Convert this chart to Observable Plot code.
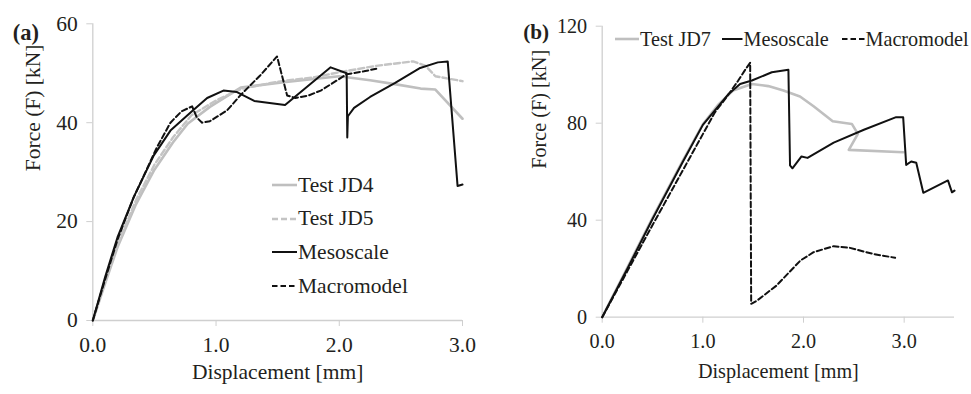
<!DOCTYPE html>
<html><head><meta charset="utf-8">
<script src="https://cdn.jsdelivr.net/npm/d3@7"></script>
<script src="https://cdn.jsdelivr.net/npm/@observablehq/plot@0.6"></script>
<style>
body{margin:0;background:#fff;}
#wrap{position:relative;width:971px;height:394px;overflow:hidden;font-family:"Liberation Serif","Times New Roman",Times,"DejaVu Serif",serif;color:#231f20;background:#fff;}
.panel{position:absolute;top:0;}
.leg{position:absolute;display:flex;align-items:center;white-space:nowrap;height:24px;}
.leg svg{display:block;}
</style></head><body>
<div id="wrap"><div id="pa" class="panel" style="left:0"></div><div id="pb" class="panel" style="left:490px"></div></div>
<script>
// ---- Data (displacement mm, force kN) ----
const xTicksA = [0, 1, 2, 3];
const yTicksA = [0, 20, 40, 60];
const xTicksB = [0, 1, 2, 3];
const yTicksB = [0, 40, 80, 120];

const testJD4 = [[0,0],[0.1,7.5],[0.2,14.8],[0.35,23.5],[0.5,30.5],[0.65,36],[0.77,39.8],[0.95,43.2],[1.2,47.1],[1.55,48.2],[2.0,49.4],[2.25,48.6],[2.45,47.8],[2.66,46.9],[2.78,46.7],[3.0,40.8]];
const testJD5 = [[0,0],[0.1,8],[0.2,15.3],[0.35,24.3],[0.5,31.5],[0.65,37],[0.8,41.5],[1.0,44.5],[1.2,46.8],[1.5,48.3],[1.8,49.2],[2.0,50.2],[2.3,51.5],[2.6,52.4],[2.7,51.5],[2.78,49.4],[3.0,48.4]];
const mesoA = [[0,0],[0.1,8.8],[0.2,16.8],[0.333,25],[0.495,33.4],[0.63,38.4],[0.8,42.2],[0.928,45],[1.06,46.5],[1.17,46.2],[1.31,44.4],[1.56,43.6],[1.93,51.2],[2.06,50],[2.065,37],[2.07,41.3],[2.12,43],[2.25,45.2],[2.45,48],[2.65,51],[2.8,52.2],[2.88,52.4],[2.96,27.2],[3.0,27.5]];
const macroA = [[0,0],[0.1,8.3],[0.2,16.3],[0.33,24.8],[0.52,35],[0.63,40],[0.72,42.3],[0.806,43.3],[0.845,41],[0.887,40],[0.95,40.3],[1.09,42.5],[1.2,45.6],[1.36,49.6],[1.495,53.4],[1.577,45.5],[1.644,45.0],[1.75,45.5],[1.85,46.5],[2.06,49.8],[2.2,50.4],[2.3,50.9]];

const testJD7 = [[0,0],[0.25,20.5],[0.5,41],[0.8,64.5],[1.0,79.5],[1.15,87.5],[1.3,93.5],[1.487,96.2],[1.65,95.3],[1.8,93.5],[1.965,91],[2.1,87],[2.29,80.8],[2.48,79.7],[2.54,75.6],[2.45,69],[2.99,68]];
const mesoB = [[0,0],[0.25,20],[0.5,40.5],[0.8,64],[1.0,79.3],[1.25,91.8],[1.37,96.2],[1.487,97.6],[1.685,101],[1.85,102],[1.866,62.6],[1.89,61.4],[1.98,66.3],[2.04,65.7],[2.3,72],[2.6,77.3],[2.92,82.5],[2.99,82.5],[3.02,62.8],[3.07,64.2],[3.12,63.7],[3.19,51.3],[3.435,56.4],[3.475,51.5],[3.5,52.2]];
const macroB = [[0,0],[0.25,19],[0.5,38],[0.8,60.5],[1.0,75.5],[1.12,84.5],[1.24,91],[1.35,97.5],[1.42,102],[1.47,104.9],[1.48,5.5],[1.54,6.9],[1.73,13],[1.97,23.4],[2.1,26.8],[2.3,29.3],[2.46,28.6],[2.69,26.1],[2.91,24.5]];

const legendA = ["Test JD4", "Test JD5", "Mesoscale", "Macromodel"];
const legendB = ["Test JD7", "Mesoscale", "Macromodel"];
const xLabel = "Displacement [mm]";
const yLabel = "Force (F) [kN]";

// ---- Styles ----
const FONT = '"Liberation Serif", "Times New Roman", Times, "DejaVu Serif", serif';
const GRAY = "#bfbfbf", BLACK = "#111", AXIS = "#cfcfcf", TEXT = "#231f20";
const sty = {
  "Test JD4": {stroke: GRAY, strokeWidth: 2.6, dash: null},
  "Test JD5": {stroke: "#c4c4c4", strokeWidth: 2.4, dash: "6,3"},
  "Test JD7": {stroke: GRAY, strokeWidth: 2.6, dash: null},
  "Mesoscale": {stroke: BLACK, strokeWidth: 2, dash: null},
  "Macromodel": {stroke: BLACK, strokeWidth: 2, dash: "5.5,3"}
};

function lineMark(data, name) {
  const s = sty[name];
  const o = {x: d => d[0], y: d => d[1], stroke: s.stroke, strokeWidth: s.strokeWidth};
  if (s.dash) o.strokeDasharray = s.dash;
  return Plot.line(data, o);
}

function makePanel(c) {
  return Plot.plot({
    width: c.width, height: 394,
    marginLeft: c.ml, marginRight: c.mr, marginTop: c.mt, marginBottom: c.mb,
    style: {fontFamily: FONT, fontSize: c.fs + "px", color: TEXT, background: "transparent", overflow: "visible"},
    x: {domain: c.xd},
    y: {domain: c.yd},
    marks: [
      Plot.ruleX([0], {stroke: AXIS, strokeWidth: 1.3}),
      Plot.ruleY([0], {stroke: AXIS, strokeWidth: 1.3}),
      Plot.axisX({ticks: c.xt, tickFormat: d => d.toFixed(1), tickSize: 6, tickPadding: 10, stroke: AXIS, fill: TEXT, label: null, fontFamily: FONT}),
      Plot.axisY({ticks: c.yt, tickFormat: d => String(d), tickSize: 6, tickPadding: 9, stroke: AXIS, fill: TEXT, label: null, fontFamily: FONT}),
      ...c.series.map(([d, n]) => lineMark(d, n)),
      Plot.text([xLabel], {text: d => d, frameAnchor: "bottom", dy: c.xlDy, fill: TEXT, fontFamily: FONT}),
      Plot.text([yLabel], {text: d => d, frameAnchor: "left", rotate: -90, dx: c.ylDx, dy: c.ylDy, fill: TEXT, fontFamily: FONT}),
      Plot.text([c.tag], {text: d => d, frameAnchor: "top-left", textAnchor: "start", dx: c.tagDx, dy: c.tagDy, fontWeight: "bold", fontSize: c.fs + 1, fill: TEXT, fontFamily: FONT})
    ]
  });
}

document.getElementById("pa").append(makePanel({
  width: 490, ml: 92.3, mr: 28, mt: 23.3, mb: 74, fs: 21.5,
  xd: [0, 3], yd: [0, 60], xt: xTicksA, yt: yTicksA,
  series: [[testJD4, "Test JD4"], [testJD5, "Test JD5"], [mesoA, "Mesoscale"], [macroA, "Macromodel"]],
  xlDy: 58, ylDx: -60, ylDy: -1, tag: "(a)", tagDx: -80, tagDy: 0
}));
document.getElementById("pb").append(makePanel({
  width: 481, ml: 111.7, mr: 17, mt: 25.7, mb: 77.3, fs: 20.2,
  xd: [0, 3.5], yd: [0, 120], xt: xTicksB, yt: yTicksB,
  series: [[testJD7, "Test JD7"], [mesoB, "Mesoscale"], [macroB, "Macromodel"]],
  xlDy: 61, ylDx: -63, ylDy: -3, tag: "(b)", tagDx: -79, tagDy: -2.4
}));

// ---- Legends (HTML) ----
function legItem(name, left, cy, lineW, fs) {
  const s = sty[name];
  const div = document.createElement("div");
  div.className = "leg";
  div.style.left = left + "px";
  div.style.top = (cy - 12) + "px";
  div.style.fontSize = fs + "px";
  div.style.fontFamily = FONT;
  div.innerHTML = `<svg width="${lineW}" height="10"><line x1="0" x2="${lineW}" y1="5" y2="5" stroke="${s.stroke}" stroke-width="${s.strokeWidth}" ${s.dash ? `stroke-dasharray="${s.dash}"` : ""}/></svg><span style="margin-left:1px">${name}</span>`;
  document.getElementById("wrap").append(div);
}
legendA.forEach((n, i) => legItem(n, 272, 185 + i * 33.7, 25, 21.5));
const legBLeft = [615, 722, 841.5], legBW = [24, 20.5, 23];
legendB.forEach((n, i) => legItem(n, legBLeft[i], 39, legBW[i], 20.2));
</script></body></html>
